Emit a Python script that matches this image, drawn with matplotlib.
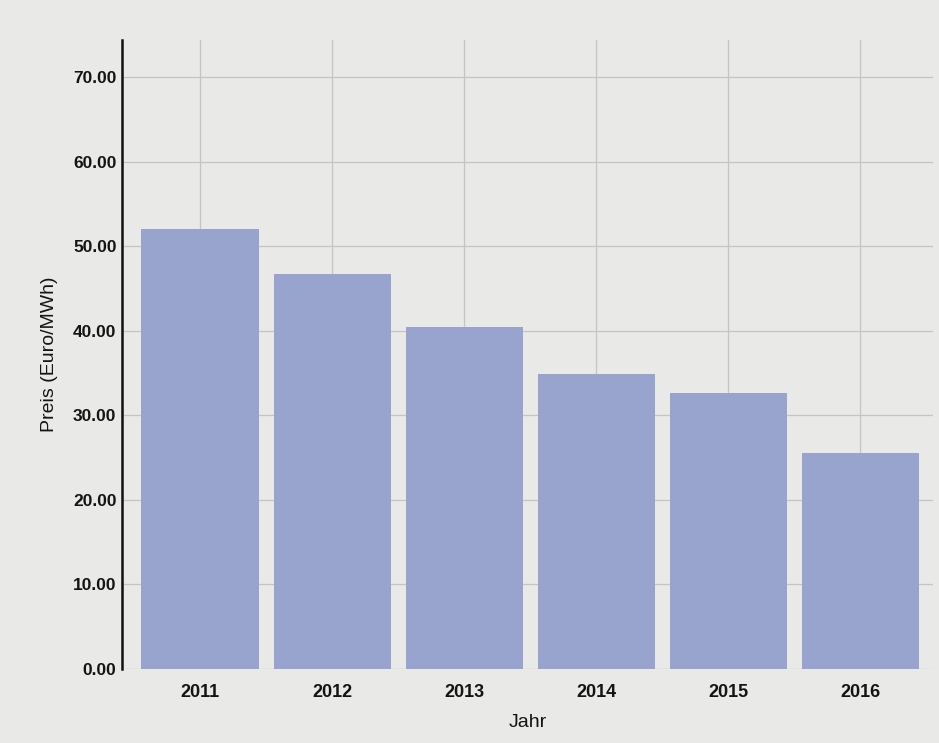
import matplotlib as mpl

mpl.use("Agg")
import matplotlib.pyplot as plt
import numpy as np

YEARS = ["2011", "2012", "2013", "2014", "2015", "2016"]
PRICES = [52.1, 46.7, 40.5, 34.9, 32.7, 25.5]
Y_TICKS = [0, 10, 20, 30, 40, 50, 60, 70]

BG = "#E9E9E7"
BAR = "#98A4CE"
GRID = "#C4C4C2"
TEXT = "#141414"

mpl.rcParams["font.family"] = ["Liberation Sans", "DejaVu Sans"]

fig = plt.figure(figsize=(9.39, 7.43), dpi=100, facecolor=BG)
ax = fig.add_axes([0.130, 0.0996, 0.8636, 0.8466], facecolor=BG)

x = np.arange(len(YEARS))
ax.bar(x, PRICES, width=0.886, color=BAR, zorder=3)

ax.set_xlim(-0.59, len(YEARS) - 0.45)
ax.set_ylim(0, 74.4)
ax.set_yticks(Y_TICKS, [f"{v:.2f}" for v in Y_TICKS])
ax.set_xticks(x, YEARS)
ax.grid(True, color=GRID, linewidth=0.9, zorder=0)
ax.tick_params(axis="y", length=0, labelsize=12.5, colors=TEXT, pad=4)
ax.tick_params(axis="x", length=0, labelsize=13, colors=TEXT, pad=11)
for lbl in ax.get_xticklabels() + ax.get_yticklabels():
    lbl.set_fontweight("bold")

for side in ("top", "right", "bottom"):
    ax.spines[side].set_visible(False)
ax.spines["left"].set_color("#111111")
ax.spines["left"].set_linewidth(1.8)

ax.set_xlabel("Jahr", fontsize=14, color=TEXT, labelpad=9)
ax.set_ylabel("Preis (Euro/MWh)", fontsize=14, color=TEXT, labelpad=11)

fig.savefig("out.png", dpi=100, facecolor=BG)
